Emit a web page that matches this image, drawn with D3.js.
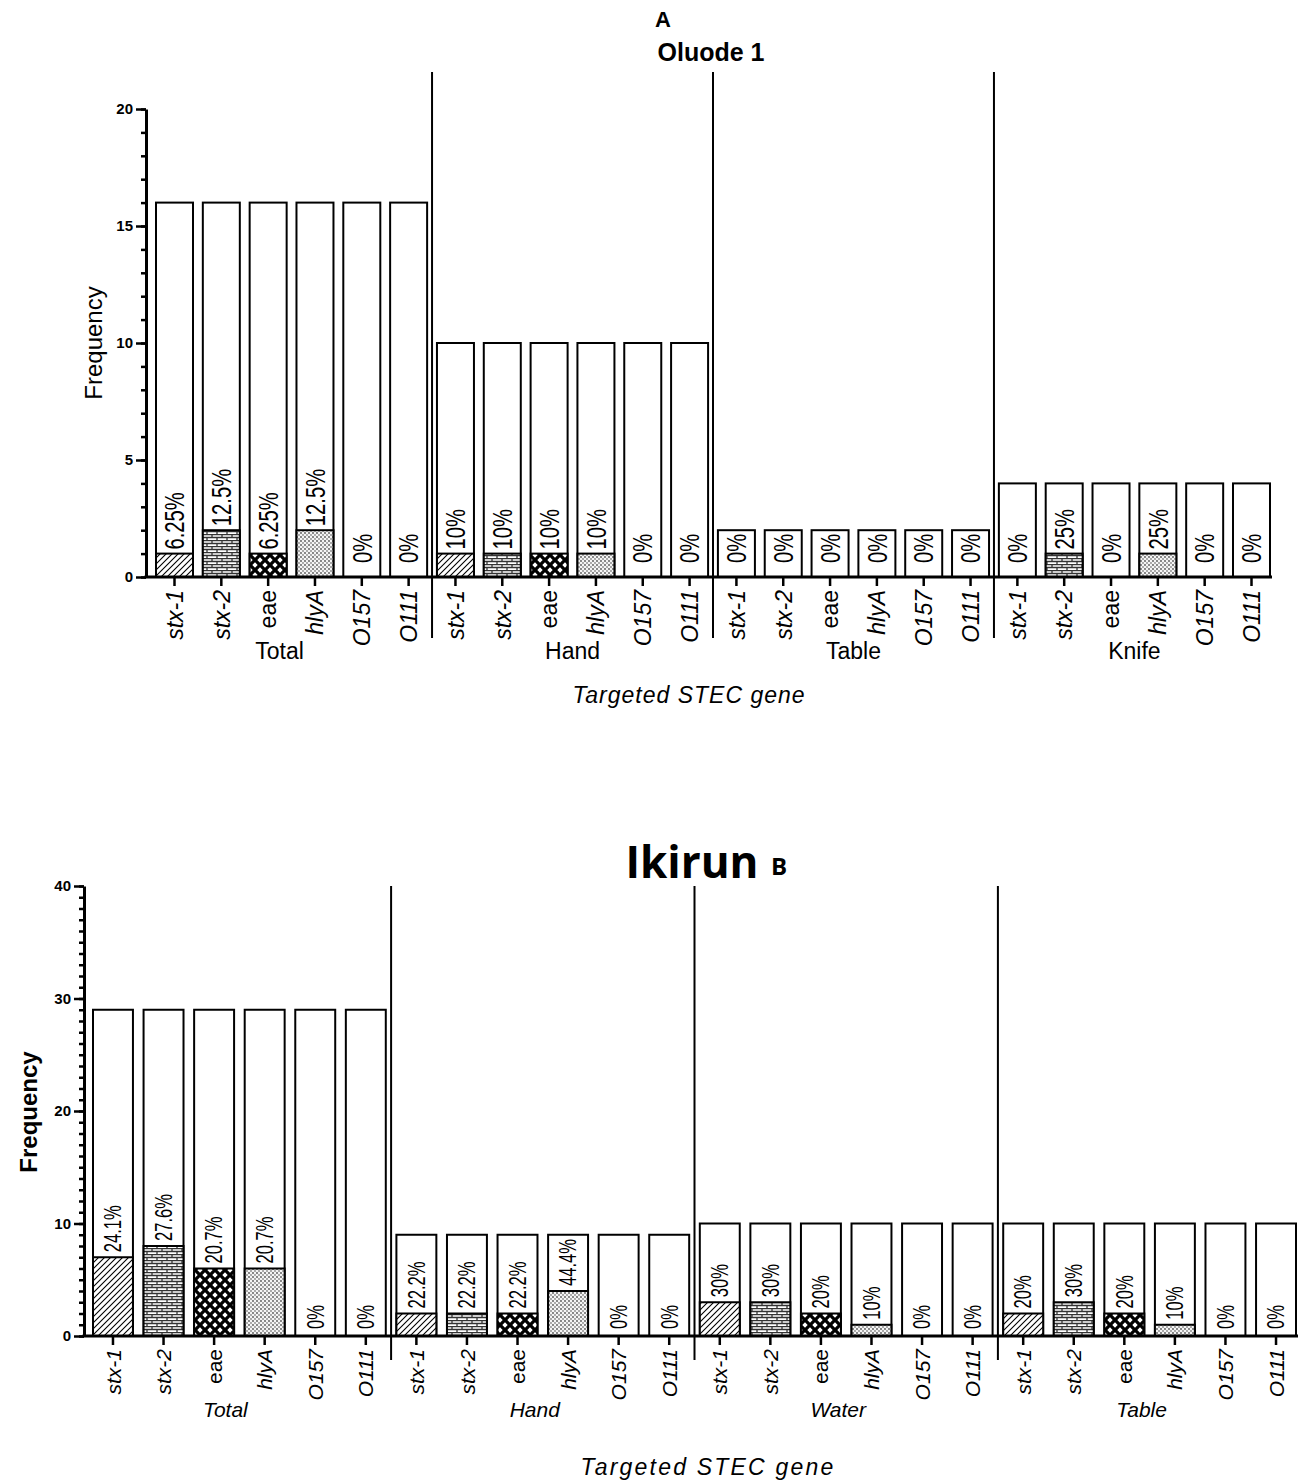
<!DOCTYPE html>
<html>
<head>
<meta charset="utf-8">
<script src="https://cdn.jsdelivr.net/npm/d3@7"></script>
<style>
  body { margin: 0; background: #fff; }
  svg { display: block; font-family: "Liberation Sans", Arial, sans-serif; }
</style>
</head>
<body>
<svg id="chart" width="1311" height="1481"></svg>
<script>
// data ---
var genes = ["stx-1", "stx-2", "eae", "hlyA", "O157", "O111"];
var italicGenes = ["stx-1", "stx-2", "hlyA", "O157", "O111"];

var sitesA = ["Total", "Hand", "Table", "Knife"];
var totalsA = [16, 10, 2, 4];
var positivesA = [
    [1, 2, 1, 2, 0, 0],
    [1, 1, 1, 1, 0, 0],
    [0, 0, 0, 0, 0, 0],
    [0, 1, 0, 1, 0, 0]
];
var percentA = [
    ["6.25%", "12.5%", "6.25%", "12.5%", "0%", "0%"],
    ["10%", "10%", "10%", "10%", "0%", "0%"],
    ["0%", "0%", "0%", "0%", "0%", "0%"],
    ["0%", "25%", "0%", "25%", "0%", "0%"]
];

var sitesB = ["Total", "Hand", "Water", "Table"];
var totalsB = [29, 9, 10, 10];
var positivesB = [
    [7, 8, 6, 6, 0, 0],
    [2, 2, 2, 4, 0, 0],
    [3, 3, 2, 1, 0, 0],
    [2, 3, 2, 1, 0, 0]
];
var percentB = [
    ["24.1%", "27.6%", "20.7%", "20.7%", "0%", "0%"],
    ["22.2%", "22.2%", "22.2%", "44.4%", "0%", "0%"],
    ["30%", "30%", "20%", "10%", "0%", "0%"],
    ["20%", "30%", "20%", "10%", "0%", "0%"]
];

var yMajorA = [0, 5, 10, 15, 20];
var yMajorB = [0, 10, 20, 30, 40];

var FONT = "'Liberation Sans', Arial, sans-serif";
var svg = d3.select("#chart");

//  Patterns ---
var defs = svg.append("defs");

var pHatch = defs.append("pattern").attr("id", "p-stx-1")
    .attr("patternUnits", "userSpaceOnUse").attr("width", 6).attr("height", 6);
pHatch.append("rect").attr("width", 6).attr("height", 6).attr("fill", "#fff");
pHatch.append("path").attr("d", "M-1,7 L7,-1 M-1,1 L1,-1 M5,7 L7,5")
    .attr("stroke", "#000").attr("stroke-width", 1.1);

var pBrick = defs.append("pattern").attr("id", "p-stx-2")
    .attr("patternUnits", "userSpaceOnUse").attr("width", 10).attr("height", 6);
pBrick.append("rect").attr("width", 10).attr("height", 6).attr("fill", "#fff");
pBrick.append("path").attr("d", "M0,0.5 H10 M0,3.5 H10 M2,0.5 V3.5 M7,3.5 V6.5")
    .attr("stroke", "#333").attr("stroke-width", 1.3);

var pDiamond = defs.append("pattern").attr("id", "p-eae")
    .attr("patternUnits", "userSpaceOnUse").attr("width", 10).attr("height", 10);
pDiamond.append("rect").attr("width", 10).attr("height", 10).attr("fill", "#000");
pDiamond.append("path")
    .attr("d", "M5,2.3 L7.7,5 L5,7.7 L2.3,5 Z M0,-2.7 L2.7,0 L0,2.7 L-2.7,0 Z M10,-2.7 L12.7,0 L10,2.7 L7.3,0 Z M0,7.3 L2.7,10 L0,12.7 L-2.7,10 Z M10,7.3 L12.7,10 L10,12.7 L7.3,10 Z")
    .attr("fill", "#fff");

var pDots = defs.append("pattern").attr("id", "p-hlyA")
    .attr("patternUnits", "userSpaceOnUse").attr("width", 4).attr("height", 4);
pDots.append("rect").attr("width", 4).attr("height", 4).attr("fill", "#f4f4f4");
pDots.append("circle").attr("cx", 1).attr("cy", 1).attr("r", 0.9).attr("fill", "#555");
pDots.append("circle").attr("cx", 3).attr("cy", 3).attr("r", 0.9).attr("fill", "#888");

function drawPanel(cfg) {
    var g = svg.append("g");
    var keys = [];
    var rows = [];
    cfg.sites.forEach(function (site, si) {
        genes.forEach(function (gene, gi) {
            var key = site + "|" + gene;
            keys.push(key);
            rows.push({
                key: key, site: site, gene: gene,
                total: cfg.totals[si], pos: cfg.positives[si][gi], label: cfg.percent[si][gi]
            });
        });
    });

    var x = d3.scaleBand().domain(keys).range(cfg.xRange).paddingInner(0.21).paddingOuter(0);
    var y = d3.scaleLinear().domain([0, cfg.yMax]).range(cfg.yRange);

    //  Bars ---
    var bar = g.selectAll(".bar").data(rows).enter().append("g").attr("class", "bar");
    bar.append("rect")
        .attr("x", function (d) { return x(d.key); })
        .attr("y", function (d) { return y(d.total); })
        .attr("width", x.bandwidth())
        .attr("height", function (d) { return y(0) - y(d.total); })
        .attr("fill", "#fff").attr("stroke", "#000").attr("stroke-width", 2);
    bar.filter(function (d) { return d.pos > 0; }).append("rect")
        .attr("x", function (d) { return x(d.key); })
        .attr("y", function (d) { return y(d.pos); })
        .attr("width", x.bandwidth())
        .attr("height", function (d) { return y(0) - y(d.pos); })
        .attr("fill", function (d) { return "url(#p-" + d.gene + ")"; })
        .attr("stroke", "#000").attr("stroke-width", 2);

    //  Percent labels ---
    bar.append("text")
        .attr("transform", function (d) {
            var yb = Math.min(y(d.pos) - cfg.labelGap, y(0) - cfg.labelGap0);
            return "translate(" + (x(d.key) + x.bandwidth() / 2) + "," + yb + ") rotate(-90) scale(" + cfg.labelScale + ",1)";
        })
        .attr("dy", "0.36em")
        .style("font-size", cfg.labelSize + "px")
        .text(function (d) { return d.label; });

    //  Dividers ---
    cfg.sites.forEach(function (site, si) {
        if (si === 0) return;
        var prev = keys[si * genes.length - 1], next = keys[si * genes.length];
        var xm = (x(prev) + x.bandwidth() + x(next)) / 2;
        g.append("line").attr("x1", xm).attr("x2", xm)
            .attr("y1", cfg.divTop).attr("y2", cfg.divBottom)
            .attr("stroke", "#000").attr("stroke-width", 2);
    });

    //  Y axis ---
    var yMinor = g.append("g").attr("transform", "translate(" + cfg.axisX + ",0)")
        .call(d3.axisLeft(y).tickValues(d3.range(0, cfg.yMax + 1)).tickSize(5).tickSizeOuter(0).tickFormat(""));
    yMinor.select(".domain").attr("stroke-width", 3);
    yMinor.selectAll(".tick line").attr("stroke-width", 2.5);
    var yMajor = g.append("g").attr("transform", "translate(" + cfg.axisX + ",0)")
        .attr("font-family", FONT)
        .call(d3.axisLeft(y).tickValues(cfg.yMajor).tickSize(10).tickSizeOuter(0).tickPadding(3));
    yMajor.select(".domain").remove();
    yMajor.selectAll(".tick line").attr("stroke-width", 2.5);
    yMajor.selectAll(".tick text").style("font-size", "15px").style("font-weight", "bold").attr("fill", "#000");

    //  X axis ---
    var xAxis = g.append("g").attr("transform", "translate(0," + y(0) + ")")
        .call(d3.axisBottom(x).tickSize(cfg.xTick).tickSizeOuter(0)
            .tickFormat(function (k) { return k.split("|")[1]; }))
        .attr("font-family", FONT);
    xAxis.select(".domain").remove();
    xAxis.selectAll(".tick line").attr("stroke-width", 2.5);
    xAxis.selectAll(".tick text")
        .attr("transform", "rotate(-90)")
        .attr("text-anchor", "end")
        .attr("x", -(cfg.xTick + 4)).attr("y", 0).attr("dy", "0.36em")
        .attr("fill", "#000")
        .style("font-size", cfg.xTickSize + "px")
        .style("font-style", function (k) { return italicGenes.indexOf(k.split("|")[1]) >= 0 ? "italic" : "normal"; });
    g.append("line").attr("x1", cfg.axisX - 1.5).attr("x2", cfg.xRange[1] + 2)
        .attr("y1", y(0)).attr("y2", y(0)).attr("stroke", "#000").attr("stroke-width", 3);

    //  Group labels ---
    cfg.sites.forEach(function (site, si) {
        var first = keys[si * genes.length], last = keys[(si + 1) * genes.length - 1];
        var xm = (x(first) + x(last) + x.bandwidth()) / 2 + (si === 0 ? cfg.firstShift : cfg.groupShift);
        g.append("text").attr("x", xm).attr("y", cfg.groupY)
            .attr("text-anchor", "middle")
            .style("font-size", cfg.groupSize + "px")
            .style("font-style", cfg.groupItalic ? "italic" : "normal")
            .text(site);
    });

    //  Axis titles ---
    g.append("text").attr("x", cfg.xTitleX).attr("y", cfg.xTitleY)
        .attr("text-anchor", "middle").style("font-size", cfg.xTitleSize + "px")
        .style("font-style", "italic").style("letter-spacing", cfg.xTitleSpacing + "px")
        .text("Targeted STEC gene");
    g.append("text")
        .attr("transform", "translate(" + cfg.yTitleX + "," + cfg.yTitleY + ") rotate(-90)")
        .attr("text-anchor", "middle").style("font-size", "24px")
        .style("font-weight", cfg.yTitleBold ? "bold" : "normal")
        .text("Frequency");
}

drawPanel({
    sites: sitesA, totals: totalsA, positives: positivesA, percent: percentA,
    yMax: 20, yMajor: yMajorA, yRange: [577, 109], xRange: [156, 1270], axisX: 146,
    labelGap: 4, labelGap0: 14, labelSize: 27, labelScale: 0.75,
    divTop: 72, divBottom: 638, xTick: 9, xTickSize: 23,
    groupY: 659, groupSize: 23, groupItalic: false, groupShift: 0, firstShift: -12,
    xTitleX: 689, xTitleY: 703, xTitleSize: 23, xTitleSpacing: 1,
    yTitleX: 102, yTitleY: 343, yTitleBold: false
});

drawPanel({
    sites: sitesB, totals: totalsB, positives: positivesB, percent: percentB,
    yMax: 40, yMajor: yMajorB, yRange: [1336, 886], xRange: [93, 1296], axisX: 84,
    labelGap: 5, labelGap0: 7, labelSize: 23, labelScale: 0.72,
    divTop: 886, divBottom: 1360, xTick: 9, xTickSize: 21,
    groupY: 1417, groupSize: 21, groupItalic: true, groupShift: -8, firstShift: -14,
    xTitleX: 708, xTitleY: 1475, xTitleSize: 23, xTitleSpacing: 2.2,
    yTitleX: 37, yTitleY: 1112, yTitleBold: true
});

//  Titles ---
svg.append("text").attr("x", 663).attr("y", 27).attr("text-anchor", "middle")
    .style("font-size", "22px").style("font-weight", "bold").text("A");
svg.append("text").attr("x", 711).attr("y", 61).attr("text-anchor", "middle")
    .style("font-size", "25px").style("font-weight", "bold").text("Oluode 1");
svg.append("text").attr("x", 692).attr("y", 878).attr("text-anchor", "middle")
    .style("font-family", "'Open Sans', sans-serif")
    .style("font-size", "44px").style("font-weight", "bold").text("Ikirun");
svg.append("text").attr("x", 779).attr("y", 875).attr("text-anchor", "middle")
    .style("font-family", "'Open Sans', sans-serif")
    .style("font-size", "24px").style("font-weight", "bold").text("B");
</script>
</body>
</html>
